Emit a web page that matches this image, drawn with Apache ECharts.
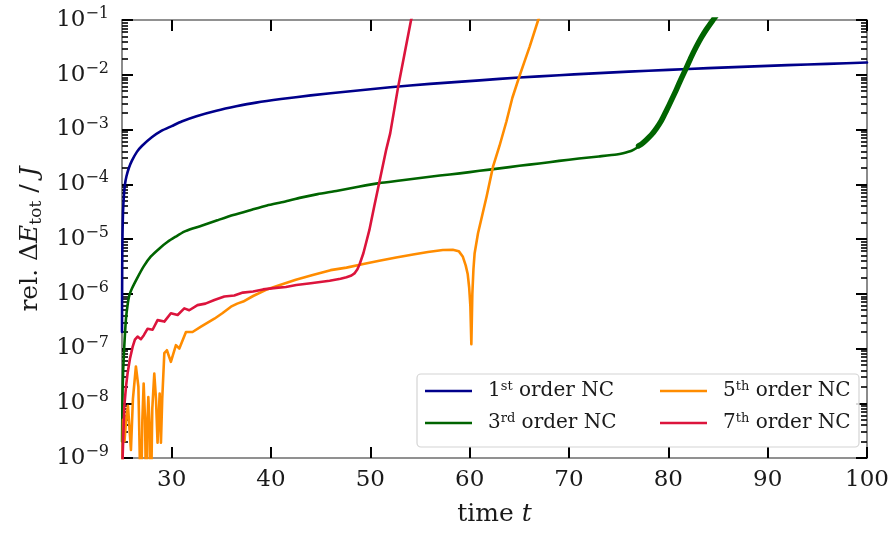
<!DOCTYPE html>
<html>
<head>
<meta charset="utf-8">
<script src="https://cdn.jsdelivr.net/npm/echarts@6/dist/echarts.min.js"></script>
<style>
html,body{margin:0;padding:0;background:#fff;}
#chart{width:892px;height:533px;}
</style>
</head>
<body>
<div id="chart"></div>
<script>
// ---------------- data ----------------
const xTicks = [30, 40, 50, 60, 70, 80, 90, 100];
const yExponents = [-9, -8, -7, -6, -5, -4, -3, -2, -1];

const tBlue = [25.0, 25.02, 25.05, 25.1, 25.2, 25.3, 25.45, 25.7, 26.0, 26.5, 27.0, 28.0, 29.0, 30.0, 31.0, 32.5, 34.5, 36.5, 38.5, 41.0, 44.0, 48.0, 52.0, 56.0, 61.0, 65.0, 69.0, 72.0, 76.0, 80.0, 84.0, 88.0, 92.0, 96.0, 100.0];
const vBlue = [2e-7, 3e-6, 1.2e-5, 3e-5, 6.5e-5, 1e-4, 1.4e-4, 2.0e-4, 2.7e-4, 3.9e-4, 5.0e-4, 7.2e-4, 9.5e-4, 1.15e-3, 1.4e-3, 1.75e-3, 2.2e-3, 2.65e-3, 3.1e-3, 3.6e-3, 4.2e-3, 5.0e-3, 5.9e-3, 6.8e-3, 7.9e-3, 8.9e-3, 9.8e-3, 1.05e-2, 1.14e-2, 1.23e-2, 1.32e-2, 1.41e-2, 1.5e-2, 1.58e-2, 1.67e-2];

const tGreen = [25.01, 25.03, 25.06, 25.12, 25.23, 25.4, 25.6, 25.75, 26.0, 26.57, 27.2, 27.91, 28.8, 29.6, 30.4, 31.27, 32.1, 33.0, 34.6, 36.2, 37.98, 39.6, 41.34, 43.0, 44.7, 46.7, 48.8, 50.9, 53.0, 55.0, 57.0, 59.0, 61.0, 63.0, 65.0, 67.0, 69.0, 71.0, 73.0, 74.8, 75.45, 76.3, 76.8, 77.3];
const vGreen = [2e-9, 6e-9, 1.7e-8, 4e-8, 1.1e-7, 3.5e-7, 7e-7, 9.5e-7, 1.25e-6, 2.0e-6, 3.2e-6, 4.8e-6, 6.8e-6, 8.9e-6, 1.1e-5, 1.36e-5, 1.55e-5, 1.75e-5, 2.2e-5, 2.75e-5, 3.4e-5, 4.1e-5, 4.8e-5, 5.7e-5, 6.6e-5, 7.6e-5, 9.0e-5, 1.05e-4, 1.17e-4, 1.3e-4, 1.44e-4, 1.58e-4, 1.76e-4, 1.95e-4, 2.17e-4, 2.4e-4, 2.67e-4, 2.95e-4, 3.22e-4, 3.5e-4, 3.7e-4, 4.1e-4, 4.6e-4, 5.4e-4];
// unstable (oscillating, drawn thick) part of the 3rd order run
const tGreenUnstable = [77.0, 77.3, 77.8, 78.3, 78.8, 79.3, 79.8, 80.3, 80.8, 81.3, 81.8, 82.3, 82.8, 83.3, 83.8, 84.5, 85.2];
const vGreenUnstable = [5.0e-4, 5.4e-4, 6.5e-4, 8.0e-4, 1.05e-3, 1.45e-3, 2.2e-3, 3.4e-3, 5.3e-3, 8.5e-3, 1.32e-2, 2.1e-2, 3.2e-2, 4.7e-2, 6.6e-2, 1.0e-1, 1.5e-1];

const tOrange = [25.0, 25.1, 25.25, 25.45, 25.6, 25.73, 25.9, 26.1, 26.4, 26.65, 26.9, 27.05, 27.18, 27.32, 27.45, 27.55, 27.65, 27.78, 27.9, 28.05, 28.25, 28.42, 28.58, 28.7, 28.79, 28.87, 28.92, 29.05, 29.26, 29.52, 29.92, 30.43, 30.77, 31.44, 32.1, 32.95, 34.3, 35.1, 35.97, 36.6, 37.2, 38.2, 39.5, 40.9, 42.5, 44.2, 46.0, 47.6, 49.3, 50.9, 52.6, 54.3, 55.8, 57.3, 58.3, 58.9, 59.3, 59.6, 59.8, 59.95, 60.07, 60.17, 60.27, 60.38, 60.5, 60.84, 61.3, 61.7, 62.35, 63.0, 63.7, 64.3, 65.0, 65.5, 66.05, 66.9, 67.2];
const vOrange = [1e-10, 5e-9, 2e-9, 6e-9, 9e-9, 9.3e-9, 1.4e-9, 1.2e-8, 4.7e-8, 2e-8, 1e-10, 5e-9, 2.3e-8, 5e-9, 1e-10, 4e-9, 1.3e-8, 4e-9, 1e-10, 8e-9, 3.5e-8, 1.2e-8, 1.9e-9, 6e-9, 1.5e-8, 5e-9, 1.9e-9, 1.2e-8, 8.2e-8, 9.3e-8, 5.7e-8, 1.15e-7, 1.0e-7, 2.0e-7, 2.0e-7, 2.5e-7, 3.5e-7, 4.4e-7, 5.8e-7, 6.6e-7, 7.2e-7, 9.1e-7, 1.18e-6, 1.45e-6, 1.8e-6, 2.2e-6, 2.7e-6, 3.0e-6, 3.5e-6, 4.0e-6, 4.6e-6, 5.2e-6, 5.8e-6, 6.3e-6, 6.35e-6, 6.0e-6, 4.8e-6, 3.3e-6, 2.3e-6, 1.3e-6, 6e-7, 1.2e-7, 1.0e-6, 2.8e-6, 5.5e-6, 1.27e-5, 2.9e-5, 5.9e-5, 2.1e-4, 5e-4, 1.4e-3, 3.8e-3, 9.3e-3, 1.7e-2, 3.3e-2, 1e-1, 1.4e-1];

const tRed = [25.0, 25.06, 25.23, 25.4, 25.56, 25.8, 26.07, 26.3, 26.57, 26.9, 27.2, 27.58, 28.08, 28.58, 29.26, 29.92, 30.6, 31.27, 31.77, 32.6, 33.4, 34.3, 35.3, 36.3, 37.17, 38.2, 39.2, 40.5, 41.5, 42.55, 44.0, 45.9, 47.0, 47.6, 48.1, 48.4, 48.7, 48.93, 49.3, 49.6, 49.9, 50.4, 50.9, 51.6, 52.0, 52.8, 53.45, 54.1, 54.4];
const vRed = [1e-10, 1e-9, 8.7e-9, 2e-8, 3.5e-8, 6.5e-8, 1.07e-7, 1.45e-7, 1.65e-7, 1.48e-7, 1.75e-7, 2.3e-7, 2.2e-7, 3.3e-7, 3.1e-7, 4.4e-7, 4.1e-7, 5.4e-7, 5.0e-7, 6.2e-7, 6.6e-7, 7.7e-7, 8.9e-7, 9.3e-7, 1.05e-6, 1.1e-6, 1.2e-6, 1.28e-6, 1.33e-6, 1.44e-6, 1.55e-6, 1.73e-6, 1.88e-6, 2.0e-6, 2.15e-6, 2.35e-6, 2.8e-6, 3.5e-6, 5.5e-6, 8.9e-6, 1.45e-5, 4.0e-5, 1.08e-4, 4.3e-4, 8.5e-4, 6.0e-3, 2.45e-2, 1e-1, 1.5e-1];

const seriesNames = ['1st', '3rd', '5th', '7th'];
const seriesNums = ['1', '3', '5', '7'];
const seriesSups = ['st', 'rd', 'th', 'th'];
const colors = ['#00008b', '#006400', '#ff8c00', '#dc143c'];

// ---------------- chart ----------------
const FONT = 'DejaVu Serif';
const pairs = (ts, vs) => ts.map((t, i) => [t, vs[i]]);

// minor tick positions of the log axis (in decades)
const minorPos = [];
for (let d = -9; d < -1; d++) for (let k = 2; k <= 9; k++) minorPos.push(d + Math.log10(k));

const spine = {show: true, lineStyle: {color: '#6e6e6e', width: 1.6}};
const majorTick = {show: true, inside: true, length: 11, lineStyle: {color: '#000', width: 2}};
const minorTickStyle = {show: true, inside: true, length: 6, lineStyle: {color: '#000', width: 1.6}, customValues: minorPos};

const chart = echarts.init(document.getElementById('chart'), null, {renderer: 'canvas'});

const legendFormatter = name => {
  const i = seriesNames.indexOf(name);
  return '{n|' + seriesNums[i] + '}{s|' + seriesSups[i] + '}{n| order NC}';
};
const legendText = {
  fontFamily: FONT, color: '#1a1a1a', padding: [0, 0, 0, 11], lineHeight: 22,
  rich: {
    n: {fontFamily: FONT, fontSize: 20, color: '#1a1a1a', lineHeight: 22},
    s: {fontFamily: FONT, fontSize: 13, color: '#1a1a1a', verticalAlign: 'top', lineHeight: 13}
  }
};

const lineSeries = (name, data, color, width, smooth) => ({
  name: name, type: 'line', data: data, xAxisIndex: 0, yAxisIndex: 0,
  symbol: 'none', showSymbol: false, smooth: smooth, clip: true,
  lineStyle: {color: color, width: width, join: 'round', cap: 'round'}, itemStyle: {color: color},
  emphasis: {disabled: true}, animation: false
});

const legendBase = {
  orient: 'vertical', top: 380, padding: 0, itemGap: 10,
  itemWidth: 47, itemHeight: 2.6, icon: 'rect',
  formatter: legendFormatter, textStyle: legendText, selectedMode: false, z: 5
};

chart.setOption({
  animation: false,
  backgroundColor: '#fff',
  grid: {left: 122, right: 25, top: 20, bottom: 75, containLabel: false},
  xAxis: [
    {type: 'value', position: 'bottom', min: 25, max: 100,
     name: '{t|time }{i|t}', nameLocation: 'middle', nameGap: 44,
     nameTextStyle: {rich: {t: {fontFamily: FONT, fontSize: 25, color: '#1a1a1a'}, i: {fontFamily: FONT, fontSize: 25, fontStyle: 'italic', color: '#1a1a1a'}}},
     axisLine: spine, axisTick: Object.assign({}, majorTick, {customValues: xTicks}),
     axisLabel: {customValues: xTicks, margin: 11, fontFamily: FONT, fontSize: 23, color: '#1a1a1a'},
     splitLine: {show: false}},
    {type: 'value', position: 'top', min: 25, max: 100,
     axisLine: spine, axisTick: Object.assign({}, majorTick, {customValues: xTicks}),
     axisLabel: {show: false}, splitLine: {show: false}}
  ],
  yAxis: [
    {type: 'log', logBase: 10, min: 1e-9, max: 1e-1, show: false,
     axisLine: {show: false}, axisTick: {show: false}, axisLabel: {show: false}, splitLine: {show: false}},
    {type: 'value', position: 'left', min: -9, max: -1, interval: 1,
     name: '{t|rel. Δ}{i|E}{s|tot}{t| / }{i|J}', nameLocation: 'middle', nameGap: 76, nameRotate: 90,
     nameTextStyle: {rich: {
       t: {fontFamily: FONT, fontSize: 25, color: '#1a1a1a', lineHeight: 30},
       i: {fontFamily: FONT, fontSize: 25, fontStyle: 'italic', color: '#1a1a1a', lineHeight: 30},
       s: {fontFamily: FONT, fontSize: 17, color: '#1a1a1a', verticalAlign: 'bottom', lineHeight: 22}
     }},
     axisLine: spine, axisTick: majorTick,
     axisLabel: {margin: 13, formatter: v => '{b|10}{e|−' + Math.abs(Math.round(v)) + '}',
       rich: {b: {fontFamily: FONT, fontSize: 23, color: '#1a1a1a', lineHeight: 28},
              e: {fontFamily: FONT, fontSize: 16, color: '#1a1a1a', verticalAlign: 'top', lineHeight: 16}}},
     splitLine: {show: false}},
    {type: 'value', position: 'left', min: -9, max: -1,
     axisLine: {show: false}, axisTick: minorTickStyle, axisLabel: {show: false}, splitLine: {show: false}},
    {type: 'value', position: 'right', min: -9, max: -1, interval: 1,
     axisLine: spine, axisTick: majorTick, axisLabel: {show: false}, splitLine: {show: false}},
    {type: 'value', position: 'right', min: -9, max: -1,
     axisLine: {show: false}, axisTick: minorTickStyle, axisLabel: {show: false}, splitLine: {show: false}}
  ],
  graphic: [{
    type: 'rect', z: 3, silent: true,
    shape: {x: 417, y: 374, width: 442, height: 73, r: 4},
    style: {fill: 'rgba(255,255,255,0.85)', stroke: '#d4d4d4', lineWidth: 1.2}
  }],
  legend: [
    Object.assign({}, legendBase, {data: ['1st', '3rd'], left: 425}),
    Object.assign({}, legendBase, {data: ['5th', '7th'], left: 660})
  ],
  series: [
    lineSeries('1st', pairs(tBlue, vBlue), colors[0], 2.6, 0.2),
    lineSeries('3rd', pairs(tGreen, vGreen), colors[1], 2.6, 0.2),
    lineSeries('3rd', pairs(tGreenUnstable, vGreenUnstable), colors[1], 5.5, 0.2),
    lineSeries('5th', pairs(tOrange, vOrange), colors[2], 2.6, false),
    lineSeries('7th', pairs(tRed, vRed), colors[3], 2.6, false)
  ]
});
</script>
</body>
</html>
